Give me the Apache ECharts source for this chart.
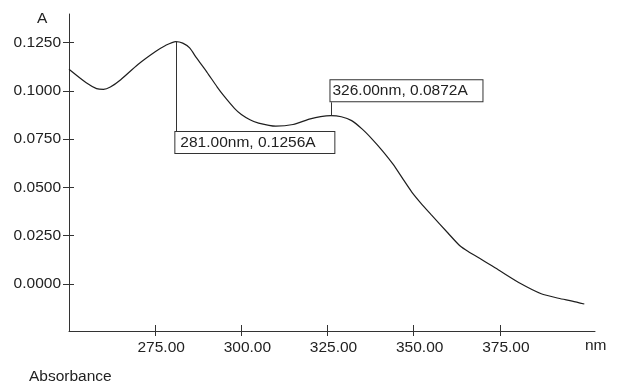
<!DOCTYPE html>
<html>
<head>
<meta charset="utf-8">
<script src="https://cdn.jsdelivr.net/npm/echarts@6/dist/echarts.min.js"></script>
<style>html,body{margin:0;padding:0;background:#fff}#c{width:617px;height:382px}</style>
</head>
<body>
<div id="c"></div>
<script>
// Data
const wavelength = [250, 255, 258, 260, 262, 265, 270, 275, 278, 281, 283, 285, 287, 290, 293, 295, 298, 300, 302.5, 305, 310, 315, 320, 323, 326, 329, 332, 335, 338, 341, 344, 347, 349.4, 352, 355, 360, 363.4, 366, 369, 375, 381, 387, 392, 396, 399.5];
const absorbance = [0.1112, 0.1042, 0.1012, 0.1008, 0.1020, 0.1058, 0.1137, 0.1203, 0.1236, 0.1256, 0.1248, 0.1223, 0.1171, 0.1098, 0.1020, 0.0973, 0.0910, 0.0878, 0.0851, 0.0833, 0.0817, 0.0826, 0.0855, 0.0867, 0.0872, 0.0866, 0.0846, 0.0803, 0.0749, 0.0688, 0.0620, 0.0540, 0.0477, 0.0420, 0.0360, 0.0262, 0.0197, 0.0165, 0.0134, 0.0067, 0.0001, -0.0052, -0.0075, -0.0090, -0.0105];
const xTicks = [275, 300, 325, 350, 375];
const yTicks = [0, 0.025, 0.05, 0.075, 0.1, 0.125];
const peakNm = [281, 326];
const peakA = [0.1256, 0.0872];
const xTitle = 'nm', yTitle = 'A', footer = 'Absorbance';

const X_MIN = 250, X_MAX = 402.6, Y_MIN = -0.0245, Y_MAX = 0.1399;
const FONT = 'Liberation Sans, Arial, Helvetica, sans-serif';
const FS = 15.5;
const AX = '#333';
const TXT = '#222';

const chart = echarts.init(document.getElementById('c'), null, {renderer: 'canvas'});

const baseX = {type: 'value', min: X_MIN, max: X_MAX, splitLine: {show: false}, position: 'bottom'};
const baseY = {type: 'value', min: Y_MIN, max: Y_MAX, splitLine: {show: false}, position: 'left'};

const fmtLabel = (nm, a) => nm.toFixed(2) + 'nm, ' + a.toFixed(4) + 'A';

// box placement (layout only)
const boxTop = [0.0785, 0.1053];
const boxBottom2 = 0.0941;

const boxLabel = (i, padL, w) => ({
  show: true, position: [0, 0], align: 'left', verticalAlign: 'top',
  formatter: fmtLabel(peakNm[i], peakA[i]), fontSize: FS, fontFamily: FONT, color: TXT,
  backgroundColor: '#fff', borderColor: AX, borderWidth: 1, padding: [3, 4, 3, padL], width: w, lineHeight: 15
});

chart.setOption({
  animation: false,
  grid: {left: 69, right: 22, top: 14, bottom: 51},
  xAxis: [
    Object.assign({}, baseX, {
      axisLine: {show: true, onZero: false, lineStyle: {color: AX, width: 1}},
      axisTick: {show: true, inside: false, length: 5, customValues: xTicks, lineStyle: {color: AX}},
      axisLabel: {
        show: true, margin: 9, customValues: xTicks,
        formatter: v => '{a|' + v.toFixed(2) + '}',
        rich: {a: {fontSize: FS, fontFamily: FONT, color: TXT, padding: [0, 0, 0, 12]}}
      }
    }),
    Object.assign({}, baseX, {
      axisLine: {show: false, onZero: false},
      axisTick: {show: true, inside: true, length: 6, customValues: xTicks, lineStyle: {color: AX}},
      axisLabel: {show: false}
    })
  ],
  yAxis: [
    Object.assign({}, baseY, {
      axisLine: {show: true, onZero: false, lineStyle: {color: AX, width: 1}},
      axisTick: {show: true, inside: false, length: 6, customValues: yTicks, lineStyle: {color: AX}},
      axisLabel: {show: true, margin: 8, customValues: yTicks, formatter: v => v.toFixed(4),
        fontSize: FS, fontFamily: FONT, color: TXT}
    }),
    Object.assign({}, baseY, {
      axisLine: {show: false, onZero: false},
      axisTick: {show: true, inside: true, length: 5, customValues: yTicks, lineStyle: {color: AX}},
      axisLabel: {show: false}
    })
  ],
  graphic: [
    {type: 'text', left: 37, top: 11, style: {text: yTitle, fontSize: FS, fontFamily: FONT, fill: TXT}},
    {type: 'text', left: 585, top: 338, style: {text: xTitle, fontSize: FS, fontFamily: FONT, fill: TXT}},
    {type: 'text', left: 29, top: 369, style: {text: footer, fontSize: FS, fontFamily: FONT, fill: TXT}}
  ],
  series: [{
    type: 'line',
    xAxisIndex: 0, yAxisIndex: 0,
    data: wavelength.map((w, i) => [w, absorbance[i]]),
    showSymbol: false,
    smooth: 0.25,
    lineStyle: {color: '#1e1e1e', width: 1.2},
    silent: true,
    markLine: {
      silent: true, symbol: 'none', animation: false,
      label: {show: false},
      lineStyle: {color: AX, width: 1, type: 'solid'},
      data: [
        [{coord: [peakNm[0], peakA[0]]}, {coord: [peakNm[0], boxTop[0]]}],
        [{coord: [peakNm[1], peakA[1]]}, {coord: [peakNm[1], boxBottom2]}]
      ]
    },
    markPoint: {
      silent: true, animation: false,
      symbol: 'rect', symbolSize: 1,
      itemStyle: {color: 'rgba(0,0,0,0)'},
      data: [
        {coord: [peakNm[0], boxTop[0]], label: boxLabel(0, 5, 150)},
        {coord: [peakNm[1], boxTop[1]], label: boxLabel(1, 2, 146)}
      ]
    }
  }]
});
</script>
</body>
</html>
